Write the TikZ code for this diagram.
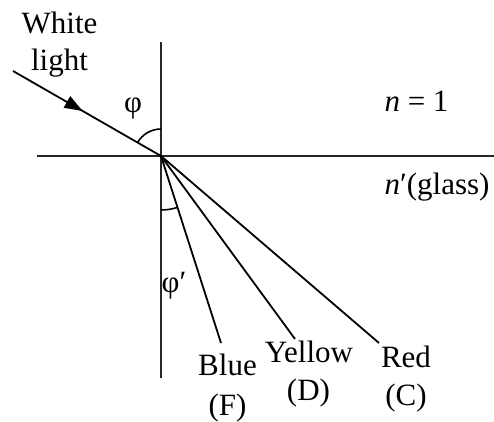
\documentclass[tikz,border=0pt]{standalone}
\usepackage{fontspec}
\setmainfont{Liberation Serif}
\usetikzlibrary{arrows.meta,decorations.markings}
\tikzset{
  axis/.style={line width=1.2pt, draw=black!85},
  ray/.style={line width=0.9pt, draw=black},
  anglearc/.style={line width=0.8pt, draw=black},
  lbl/.style={inner sep=0pt, outer sep=0pt, font=\fontsize{15.5}{18}\selectfont},
  midarrow/.style={postaction={decorate}, decoration={markings,
     mark=at position #1 with {\arrow{Triangle[length=9pt,width=6.5pt]}}}}
}
\begin{document}
\begin{tikzpicture}[x=0.5pt,y=0.5pt]
\useasboundingbox (0,0) rectangle (494,422);
% points
\coordinate (O) at (161,266);
\coordinate (vtop) at (161,380);
\coordinate (vbot) at (161,44);
\coordinate (hl) at (37,266);
\coordinate (hr) at (494,266);
\coordinate (S) at (13,351);
\coordinate (B) at (221,79);
\coordinate (Y) at (295,83);
\coordinate (R) at (379,79);
% axes
\draw[axis] (vtop) -- (vbot);
\draw[axis] (hl) -- (hr);
% rays
\draw[ray, midarrow=0.47] (S) -- (O);
\draw[ray] (O) -- (B);
\draw[ray] (O) -- (Y);
\draw[ray] (O) -- (R);
% angle arcs
\draw[anglearc] (O) ++(90:13.5pt) arc[start angle=90, end angle=150.4, radius=13.5pt];
\draw[anglearc] (O) ++(270:27pt) arc[start angle=270, end angle=287.8, radius=27pt];
% labels
\node[lbl, anchor=base] (white) at (59.5,388) {White};
\node[lbl, anchor=base] (light) at (59.5,351) {light};
\node[lbl] (phi) at (133,314) {φ};
\node[lbl, anchor=base] (nair) at (416.5,310) {\textit{n} = 1};
\node[lbl, anchor=base] (nglass) at (437,227.5) {\textit{n}′(glass)};
\node[lbl] (phip) at (174,136) {φ′};
\node[lbl, anchor=base] (blue) at (227.5,46) {Blue};
\node[lbl, anchor=base] (F) at (227.5,6) {(F)};
\node[lbl, anchor=base] (yellow) at (309,59) {Yellow};
\node[lbl, anchor=base] (D) at (308.5,21) {(D)};
\node[lbl, anchor=base] (red) at (406,54) {Red};
\node[lbl, anchor=base] (C) at (406,16) {(C)};
\end{tikzpicture}
\end{document}
